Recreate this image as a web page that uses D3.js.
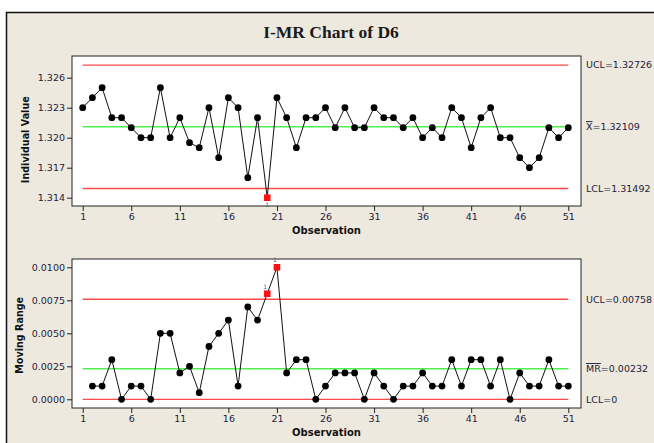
<!DOCTYPE html>
<html>
<head>
<meta charset="utf-8">
<script src="https://cdn.jsdelivr.net/npm/d3@7"></script>
<style>
  body { margin: 0; background: #fff; }
  svg { display: block; }
  .tick text { font-family: "DejaVu Sans", sans-serif; font-size: 9.5px; fill: #1c1c3c; }
  .tick line { stroke: #222; }
  .domain { display: none; }
</style>
</head>
<body>
<div class="container"></div>
<script>
const WIDTH = 654;
const HEIGHT = 443;

// observation numbers 1..51 and the tick labels under them
var observations = [1,2,3,4,5,6,7,8,9,10,11,12,13,14,15,16,17,18,19,20,21,22,23,24,25,26,27,28,29,30,31,32,33,34,35,36,37,38,39,40,41,42,43,44,45,46,47,48,49,50,51];
var xTicks = [1, 6, 11, 16, 21, 26, 31, 36, 41, 46, 51];

// individual values
var individual = [1.323, 1.324, 1.325, 1.322, 1.322, 1.321, 1.320, 1.320, 1.325, 1.320,
    1.322, 1.3195, 1.319, 1.323, 1.318, 1.324, 1.323, 1.316, 1.322, 1.314,
    1.324, 1.322, 1.319, 1.322, 1.322, 1.323, 1.321, 1.323, 1.321, 1.321,
    1.323, 1.322, 1.322, 1.321, 1.322, 1.320, 1.321, 1.320, 1.323, 1.322,
    1.319, 1.322, 1.323, 1.320, 1.320, 1.318, 1.317, 1.318, 1.321, 1.320, 1.321];
var iTicks = [1.314, 1.317, 1.320, 1.323, 1.326];
var iLimits = { ucl: 1.32726, center: 1.32109, lcl: 1.31492 };
var iFlagged = [20];

// moving ranges, starting at observation 2
var movingRange = [0.001, 0.001, 0.003, 0.000, 0.001, 0.001, 0.000, 0.005, 0.005,
    0.002, 0.0025, 0.0005, 0.004, 0.005, 0.006, 0.001, 0.007, 0.006, 0.008,
    0.010, 0.002, 0.003, 0.003, 0.000, 0.001, 0.002, 0.002, 0.002, 0.000,
    0.002, 0.001, 0.000, 0.001, 0.001, 0.002, 0.001, 0.001, 0.003, 0.001,
    0.003, 0.003, 0.001, 0.003, 0.000, 0.002, 0.001, 0.001, 0.003, 0.001, 0.001];
var mrTicks = [0, 0.0025, 0.005, 0.0075, 0.01];
var mrLimits = { ucl: 0.00758, center: 0.00232, lcl: 0 };
var mrFlagged = [20, 21];

var translate = function(x, y) {
    return `translate(${x},${y})`;
};

var drawPanel = function(svg, opt) {
    var x = d3.scaleLinear().domain([1, 51]).range([82.7, 568.3]);
    var y = d3.scaleLinear().domain(opt.domain).range(opt.range);

    // frame
    svg.append('rect')
        .attr('x', opt.frame[0]).attr('y', opt.frame[1])
        .attr('width', opt.frame[2]).attr('height', opt.frame[3])
        .attr('fill', '#fff').attr('stroke', '#222').attr('stroke-width', 1);

    var bottom = opt.frame[1] + opt.frame[3];

    svg.append('g')
        .attr('transform', translate(0, bottom))
        .call(d3.axisBottom(x).tickValues(xTicks).tickSize(5).tickPadding(2).tickFormat(d3.format('d')));

    svg.append('g')
        .attr('transform', translate(opt.frame[0], 0))
        .call(d3.axisLeft(y).tickValues(opt.ticks).tickSize(5).tickPadding(2).tickFormat(d3.format(opt.fmt)));

    svg.append('text')
        .attr('x', 326.5).attr('y', bottom + 28)
        .attr('text-anchor', 'middle')
        .style('font-family', '"DejaVu Sans", sans-serif')
        .style('font-size', '10px').style('font-weight', 'bold').attr('fill', '#111')
        .text('Observation');

    svg.append('text')
        .attr('transform', translate(opt.titleX, (y.range()[0] + y.range()[1]) / 2 + 2) + ' rotate(-90)')
        .attr('text-anchor', 'middle')
        .attr('dy', '0.35em')
        .style('font-family', '"DejaVu Sans", sans-serif')
        .style('font-size', '9.6px').style('font-weight', 'bold').attr('fill', '#111')
        .text(opt.title);

    // control limits
    var lims = [
        { v: opt.limits.ucl, c: '#ff4a4a', w: 1.3 },
        { v: opt.limits.center, c: '#4ef04e', w: 1.6 },
        { v: opt.limits.lcl, c: '#ff4a4a', w: 1.3 }
    ];
    svg.selectAll(null).data(lims).enter()
        .append('line')
        .attr('x1', x(1)).attr('x2', x(51))
        .attr('y1', (d) => y(d.v)).attr('y2', (d) => y(d.v))
        .attr('stroke', (d) => d.c).attr('stroke-width', (d) => d.w);

    var labels = svg.selectAll(null).data(opt.labels).enter()
        .append('text')
        .attr('x', 586)
        .attr('y', (d) => y(d.v))
        .attr('dy', '0.35em')
        .style('font-family', '"DejaVu Sans", sans-serif')
        .style('font-size', '9.5px').attr('fill', '#1c1c3c');
    labels.append('tspan')
        .style('text-decoration', 'overline')
        .text((d) => d.bar);
    labels.append('tspan')
        .text((d) => d.text);

    var pts = opt.xs.map((o, i) => ({ x: o, v: opt.values[i] }));

    svg.append('path')
        .attr('fill', 'none').attr('stroke', '#111').attr('stroke-width', 1)
        .attr('d', d3.line().x((d) => x(d.x)).y((d) => y(d.v))(pts));

    svg.selectAll(null).data(pts.filter((d) => opt.flagged.indexOf(d.x) < 0)).enter()
        .append('circle')
        .attr('cx', (d) => x(d.x)).attr('cy', (d) => y(d.v))
        .attr('r', 3.4).attr('fill', '#000');

    var flagged = pts.filter((d) => opt.flagged.indexOf(d.x) >= 0);
    svg.selectAll(null).data(flagged).enter()
        .append('rect')
        .attr('x', (d) => x(d.x) - 3.3).attr('y', (d) => y(d.v) - 3.3)
        .attr('width', 6.6).attr('height', 6.6)
        .attr('fill', '#ff1010');
    svg.selectAll(null).data(flagged).enter()
        .append('text')
        .attr('x', (d) => x(d.x) - opt.flagDx)
        .attr('y', (d) => y(d.v) + opt.flagDy)
        .attr('text-anchor', 'middle')
        .style('font-family', '"DejaVu Sans", sans-serif')
        .style('font-size', '6px').attr('fill', '#4a5a8a')
        .text('1');
};

var fillLayout = function() {
    var svg = d3.select('.container').append('svg')
        .attr('width', WIDTH)
        .attr('height', HEIGHT);

    // window background and border
    svg.append('rect')
        .attr('x', 6.5).attr('y', 12.5)
        .attr('width', WIDTH).attr('height', HEIGHT)
        .attr('fill', '#eee9df').attr('stroke', '#111').attr('stroke-width', 1.5);

    svg.append('text')
        .attr('x', 331).attr('y', 38)
        .attr('text-anchor', 'middle')
        .style('font-family', '"Liberation Serif", serif')
        .style('font-size', '17.5px').style('font-weight', 'bold').attr('fill', '#1a1a1a')
        .text('I-MR Chart of D6');

    drawPanel(svg, {
        frame: [72, 56, 509, 150],
        domain: [1.314, 1.326], range: [197.7, 77.7],
        ticks: iTicks, fmt: '.3f',
        title: 'Individual Value', titleX: 26,
        limits: iLimits,
        labels: [
            { v: iLimits.ucl, bar: '', text: 'UCL=1.32726' },
            { v: iLimits.center, bar: 'X', text: '=1.32109' },
            { v: iLimits.lcl, bar: '', text: 'LCL=1.31492' }
        ],
        xs: observations, values: individual, flagged: iFlagged,
        flagDx: 0, flagDy: 9
    });

    drawPanel(svg, {
        frame: [72, 259, 509, 149],
        domain: [0, 0.01], range: [399.3, 267.3],
        ticks: mrTicks, fmt: '.4f',
        title: 'Moving Range', titleX: 20,
        limits: mrLimits,
        labels: [
            { v: mrLimits.ucl, bar: '', text: 'UCL=0.00758' },
            { v: mrLimits.center, bar: 'MR', text: '=0.00232' },
            { v: mrLimits.lcl, bar: '', text: 'LCL=0' }
        ],
        xs: observations.slice(1), values: movingRange, flagged: mrFlagged,
        flagDx: 2, flagDy: -5
    });
};
window.onload = fillLayout;
</script>
</body>
</html>
